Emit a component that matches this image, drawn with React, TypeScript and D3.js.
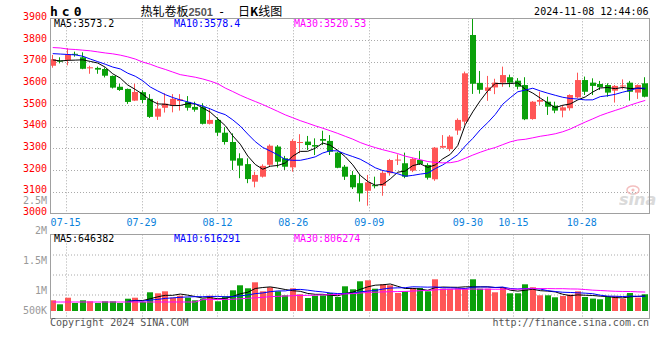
import React from "react";
import * as d3 from "d3";

const dates = [
  "07-11","07-12","07-15","07-16","07-17","07-18","07-19","07-22","07-23","07-24",
  "07-25","07-26","07-29","07-30","07-31","08-01","08-02","08-05","08-06","08-07",
  "08-08","08-09","08-12","08-13","08-14","08-15","08-16","08-19","08-20","08-21",
  "08-22","08-23","08-26","08-27","08-28","08-29","08-30","09-02","09-03","09-04",
  "09-05","09-06","09-09","09-10","09-11","09-12","09-13","09-18","09-19","09-20",
  "09-23","09-24","09-25","09-26","09-27","09-30","10-08","10-09","10-10","10-11",
  "10-14","10-15","10-16","10-17","10-18","10-21","10-22","10-23","10-24","10-25",
  "10-28","10-29","10-30","10-31","11-01","11-04","11-05","11-06","11-07","11-08",
];
const opens = [
  3681,3705,3708,3736,3720,3669,3671,3666,3634,3584,
  3574,3520,3559,3528,3446,3487,3500,3518,3514,3491,
  3490,3413,3431,3372,3329,3254,3227,3146,3169,3224,
  3308,3254,3212,3326,3331,3315,3343,3334,3280,3215,
  3177,3139,3104,3130,3127,3185,3244,3231,3197,3246,
  3223,3157,3303,3296,3382,3423,3823,3602,3565,3581,
  3603,3628,3612,3592,3435,3515,3515,3497,3474,3485,
  3535,3615,3603,3597,3592,3566,3587,3603,3557,3600,
];
const highs = [
  3731,3720,3762,3746,3743,3681,3677,3673,3636,3598,
  3576,3598,3567,3550,3517,3554,3550,3550,3541,3515,
  3508,3485,3443,3398,3369,3277,3254,3192,3226,3318,
  3315,3265,3342,3365,3357,3346,3381,3361,3284,3223,
  3195,3177,3177,3169,3200,3251,3272,3280,3257,3288,
  3231,3306,3361,3361,3438,3654,3898,3657,3634,3621,
  3677,3640,3624,3628,3518,3561,3538,3515,3500,3549,
  3649,3631,3623,3611,3600,3592,3618,3611,3595,3628,
];
const lows = [
  3672,3692,3683,3723,3665,3644,3644,3627,3576,3565,
  3505,3518,3508,3440,3431,3465,3466,3474,3474,3469,
  3410,3410,3357,3317,3200,3162,3139,3120,3165,3215,
  3211,3200,3192,3277,3292,3269,3315,3269,3208,3154,
  3112,3054,3035,3115,3081,3174,3223,3162,3190,3223,
  3156,3150,3300,3287,3362,3408,3551,3552,3519,3550,
  3584,3582,3572,3430,3432,3500,3454,3462,3443,3474,
  3531,3546,3546,3569,3538,3511,3572,3520,3528,3535,
];
const closes = [
  3711,3700,3732,3732,3667,3674,3663,3635,3580,3569,
  3514,3560,3523,3445,3483,3506,3528,3526,3487,3478,
  3413,3431,3372,3329,3243,3220,3158,3177,3219,3312,
  3238,3215,3334,3329,3315,3308,3335,3284,3210,3169,
  3120,3092,3143,3125,3187,3246,3248,3169,3251,3228,
  3164,3303,3311,3354,3431,3646,3598,3570,3581,3603,
  3638,3603,3584,3434,3515,3523,3492,3474,3489,3546,
  3615,3561,3588,3582,3557,3588,3590,3561,3592,3538,
];
const volumes = [
  455000,285000,566000,340000,455000,413000,340000,413000,413000,340000,
  523000,566000,383000,796000,753000,838000,566000,651000,566000,455000,
  523000,651000,413000,626000,881000,1094000,966000,1221000,838000,1009000,
  838000,668000,966000,711000,553000,651000,668000,766000,596000,1051000,
  923000,1264000,1306000,949000,1136000,1094000,766000,838000,979000,979000,
  838000,1349000,952000,941000,957000,946000,1349000,949000,949000,796000,
  979000,753000,753000,1136000,1009000,668000,668000,583000,638000,698000,
  838000,596000,528000,498000,613000,626000,528000,766000,570000,711000,
];
// moving-average values for the days before enough history is shown
const ma5Head = [3708, 3703, 3706, 3707];
const ma10Head = [3737, 3735, 3733, 3731, 3725, 3712, 3700, 3688, 3675];
const ma30Head = [
  3765,3763,3758,3756,3753,3750,3745,3740,3736,3730,
  3722,3712,3698,3688,3675,3664,3652,3640,3634,3628,
  3620,3610,3598,3578,3562,3545,3530,3516,3502,
];
const volMa30Head = [
  383000,383000,383000,383000,383000,383000,383000,383000,383000,383000,
  383000,383000,383000,383000,383000,383000,383000,383000,383000,383000,
  485000,485000,490000,495000,500000,520000,540000,560000,580000,
];
const volShortMaStart = 10;

const dateTicks = ["07-15","07-29","08-12","08-26","09-09","09-30","10-15","10-28"];
const priceTicks = [3000,3100,3200,3300,3400,3500,3600,3700,3800,3900];
const volTickValues = [2500000, 2000000, 1500000, 1000000, 500000];
const volTickTexts = ["2.5M", "2M", "1.5M", "1M", "500K"];
const priceMaTexts = ["MA5:3573.2", "MA10:3578.4", "MA30:3520.53"];
const volMaTexts = ["MA5:646382", "MA10:616291", "MA30:806274"];
const maColors = ["#000000", "#0000ff", "#ff00ff"];

const RED = "#ff5656";
const GREEN = "#0aa00a";
const GRID = "#aaaaaa";
const BORDER = "#a0a0a0";
const MONO = "'DejaVu Sans Mono', monospace";

function movingAvg(values: number[], period: number, head: number[], start = 0): (number | null)[] {
  return values.map((_, i) => {
    if (i < start) return null;
    if (i < period - 1) return i < head.length ? head[i] : null;
    return d3.mean(values.slice(i - period + 1, i + 1)) as number;
  });
}

export default function App() {
  const n = dates.length;
  const idx = d3.range(n);
  const L = 50, R = 650;
  const pTop = 18.3, pBot = 213.3;
  const vTop = 234.5, vBot = 318.5, vBase = 311;

  const xBand = d3.scaleBand<number>().domain(idx).range([49, 649]);
  const xGrid = d3.scalePoint<number>().domain(idx).range([50.5, 650]);
  const cx = (i: number) => (xBand(i) as number) + xBand.bandwidth() / 2;
  const yP = d3.scaleLinear().domain([3000, 3900]).range([pBot, pTop]);
  const yV = d3.scaleLinear().domain([0, 1000000]).range([vBase, vBase - 23.5]);
  const yVLabel = d3.scaleLinear().domain([1000000, 2000000]).range([290.3, 230.6]);

  const ma5 = movingAvg(closes, 5, ma5Head);
  const ma10 = movingAvg(closes, 10, ma10Head);
  const ma30 = movingAvg(closes, 30, ma30Head);
  const vma5 = movingAvg(volumes, 5, [], volShortMaStart);
  const vma10 = movingAvg(volumes, 10, [], volShortMaStart);
  const vma30 = movingAvg(volumes, 30, volMa30Head);

  const lineP = d3.line<number | null>()
    .defined((d) => d != null)
    .x((_, i) => cx(i))
    .y((d) => yP(d as number));
  const lineV = d3.line<number | null>()
    .defined((d) => d != null)
    .x((_, i) => cx(i))
    .y((d) => yV(d as number));

  const tickIdx = dateTicks.map((t) => dates.indexOf(t));
  const gx = (i: number) => Math.round(xGrid(i) as number) + 0.5;

  return (
    <svg width={660} height={360} style={{ position: "absolute", left: 0, top: 0, background: "#fff" }}
      fontFamily={MONO}>
      <rect x={0} y={0} width={660} height={360} fill="#fff" />

      {/* header */}
      <text x={50} y={15.7} fontSize={13} fontWeight="bold" letterSpacing={4} fill="#000">hc0</text>
      <text x={140.5} y={16} fontSize={12} fontFamily="'Noto Sans CJK SC', sans-serif" fill="#000">热轧卷板</text>
      <text x={188.5} y={15.5} fontSize={11} fontWeight="bold" fontFamily="'Liberation Sans', sans-serif" fill="#555">2501</text>
      <text x={221.5} y={15.5} fontSize={12} textAnchor="middle" fill="#000">-</text>
      <text x={238} y={16} fontSize={12} fontFamily="'Noto Sans CJK SC', sans-serif" fill="#000">日<tspan fontWeight="bold">K</tspan>线图</text>
      <text x={648.5} y={15.3} fontSize={10} textAnchor="end" fill="#000">2024-11-08 12:44:06</text>

      {/* price grid */}
      {priceTicks.filter((t) => t > 3000 && t < 3900).map((t) => (
        <line key={"pg" + t} x1={L} x2={R} y1={Math.round(yP(t)) + 0.5} y2={Math.round(yP(t)) + 0.5}
          stroke={GRID} strokeDasharray="1,2" />
      ))}
      {tickIdx.map((i) => (
        <line key={"pv" + i} x1={gx(i)} x2={gx(i)} y1={pTop} y2={pBot} stroke={GRID} strokeDasharray="1,2" />
      ))}

      {/* volume grid */}
      {[1, 2, 3].map((k) => (
        <line key={"vg" + k} x1={L} x2={R} y1={vTop + 20 * k + 0.5} y2={vTop + 20 * k + 0.5}
          stroke={GRID} strokeDasharray="1,2" />
      ))}
      {tickIdx.map((i) => (
        <line key={"vv" + i} x1={gx(i)} x2={gx(i)} y1={vTop} y2={vBot} stroke={GRID} strokeDasharray="1,2" />
      ))}

      {/* axis labels */}
      {priceTicks.map((t) => (
        <text key={"pl" + t} x={47} y={yP(t) + 1.6} fontSize={10} textAnchor="end" fill="#ff0000">{t}</text>
      ))}
      {volTickValues.map((v, k) => (
        <text key={"vl" + v} x={47} y={Math.min(yVLabel(v), 310.3) + 3.6} fontSize={10} textAnchor="end" fill="#999">
          {volTickTexts[k]}
        </text>
      ))}
      {tickIdx.map((i, k) => (
        <text key={"dl" + i} x={xGrid(i)} y={225.5} fontSize={10} textAnchor="middle" fill="#0b82dc">{dateTicks[k]}</text>
      ))}

      {/* sina watermark */}
      <g opacity={0.9}>
        <ellipse cx={633} cy={190} rx={6} ry={4} fill="none" stroke="#f3b9b9" strokeWidth={1.5} />
        <circle cx={633} cy={190} r={1.6} fill="#f3b9b9" />
        <text x={619} y={205} fontSize={16} fontStyle="italic" fontWeight="bold"
          fontFamily="'DejaVu Sans', sans-serif" fill="#d6d6d6">sina</text>
      </g>

      {/* candles */}
      {idx.map((i) => {
        const o = opens[i], c = closes[i];
        const color = c >= o ? RED : GREEN;
        const left = Math.round(cx(i) - 3);
        const yTop = yP(Math.max(o, c));
        const h = Math.max(1, yP(Math.min(o, c)) - yTop);
        return (
          <g key={"c" + i}>
            <line x1={left + 2.5} x2={left + 2.5} y1={Math.max(yP(highs[i]), pTop)} y2={yP(lows[i])} stroke={color} />
            <rect x={left} y={yTop} width={6} height={h} fill={color} />
          </g>
        );
      })}
      {[ma5, ma10, ma30].map((s, k) => (
        <path key={"pm" + k} d={lineP(s) || ""} fill="none" stroke={maColors[k]} strokeWidth={1} />
      ))}

      {/* volume bars */}
      {idx.map((i) => {
        const color = closes[i] >= opens[i] ? RED : GREEN;
        const left = Math.round(cx(i) - 3);
        return <rect key={"v" + i} x={left} y={yV(volumes[i])} width={6} height={vBase - yV(volumes[i])} fill={color} />;
      })}
      {[vma5, vma10, vma30].map((s, k) => (
        <path key={"vm" + k} d={lineV(s) || ""} fill="none" stroke={maColors[k]} strokeWidth={1} />
      ))}

      {/* borders */}
      <rect x={50.5} y={18.5} width={599} height={195} fill="none" stroke={BORDER} />
      <rect x={50.5} y={234.5} width={599} height={84} fill="none" stroke={BORDER} />

      {/* MA labels */}
      {priceMaTexts.map((t, k) => (
        <text key={"pmt" + k} x={54 + 120 * k} y={27.3} fontSize={10} fill={maColors[k]}>{t}</text>
      ))}
      {volMaTexts.map((t, k) => (
        <text key={"vmt" + k} x={54 + 120 * k} y={241.7} fontSize={10} fill={maColors[k]}>{t}</text>
      ))}

      {/* footer */}
      <text x={50} y={326} fontSize={10} fill="#555">Copyright 2024 SINA.COM</text>
      <text x={649} y={326} fontSize={10} textAnchor="end" fill="#555">http://finance.sina.com.cn</text>
    </svg>
  );
}
